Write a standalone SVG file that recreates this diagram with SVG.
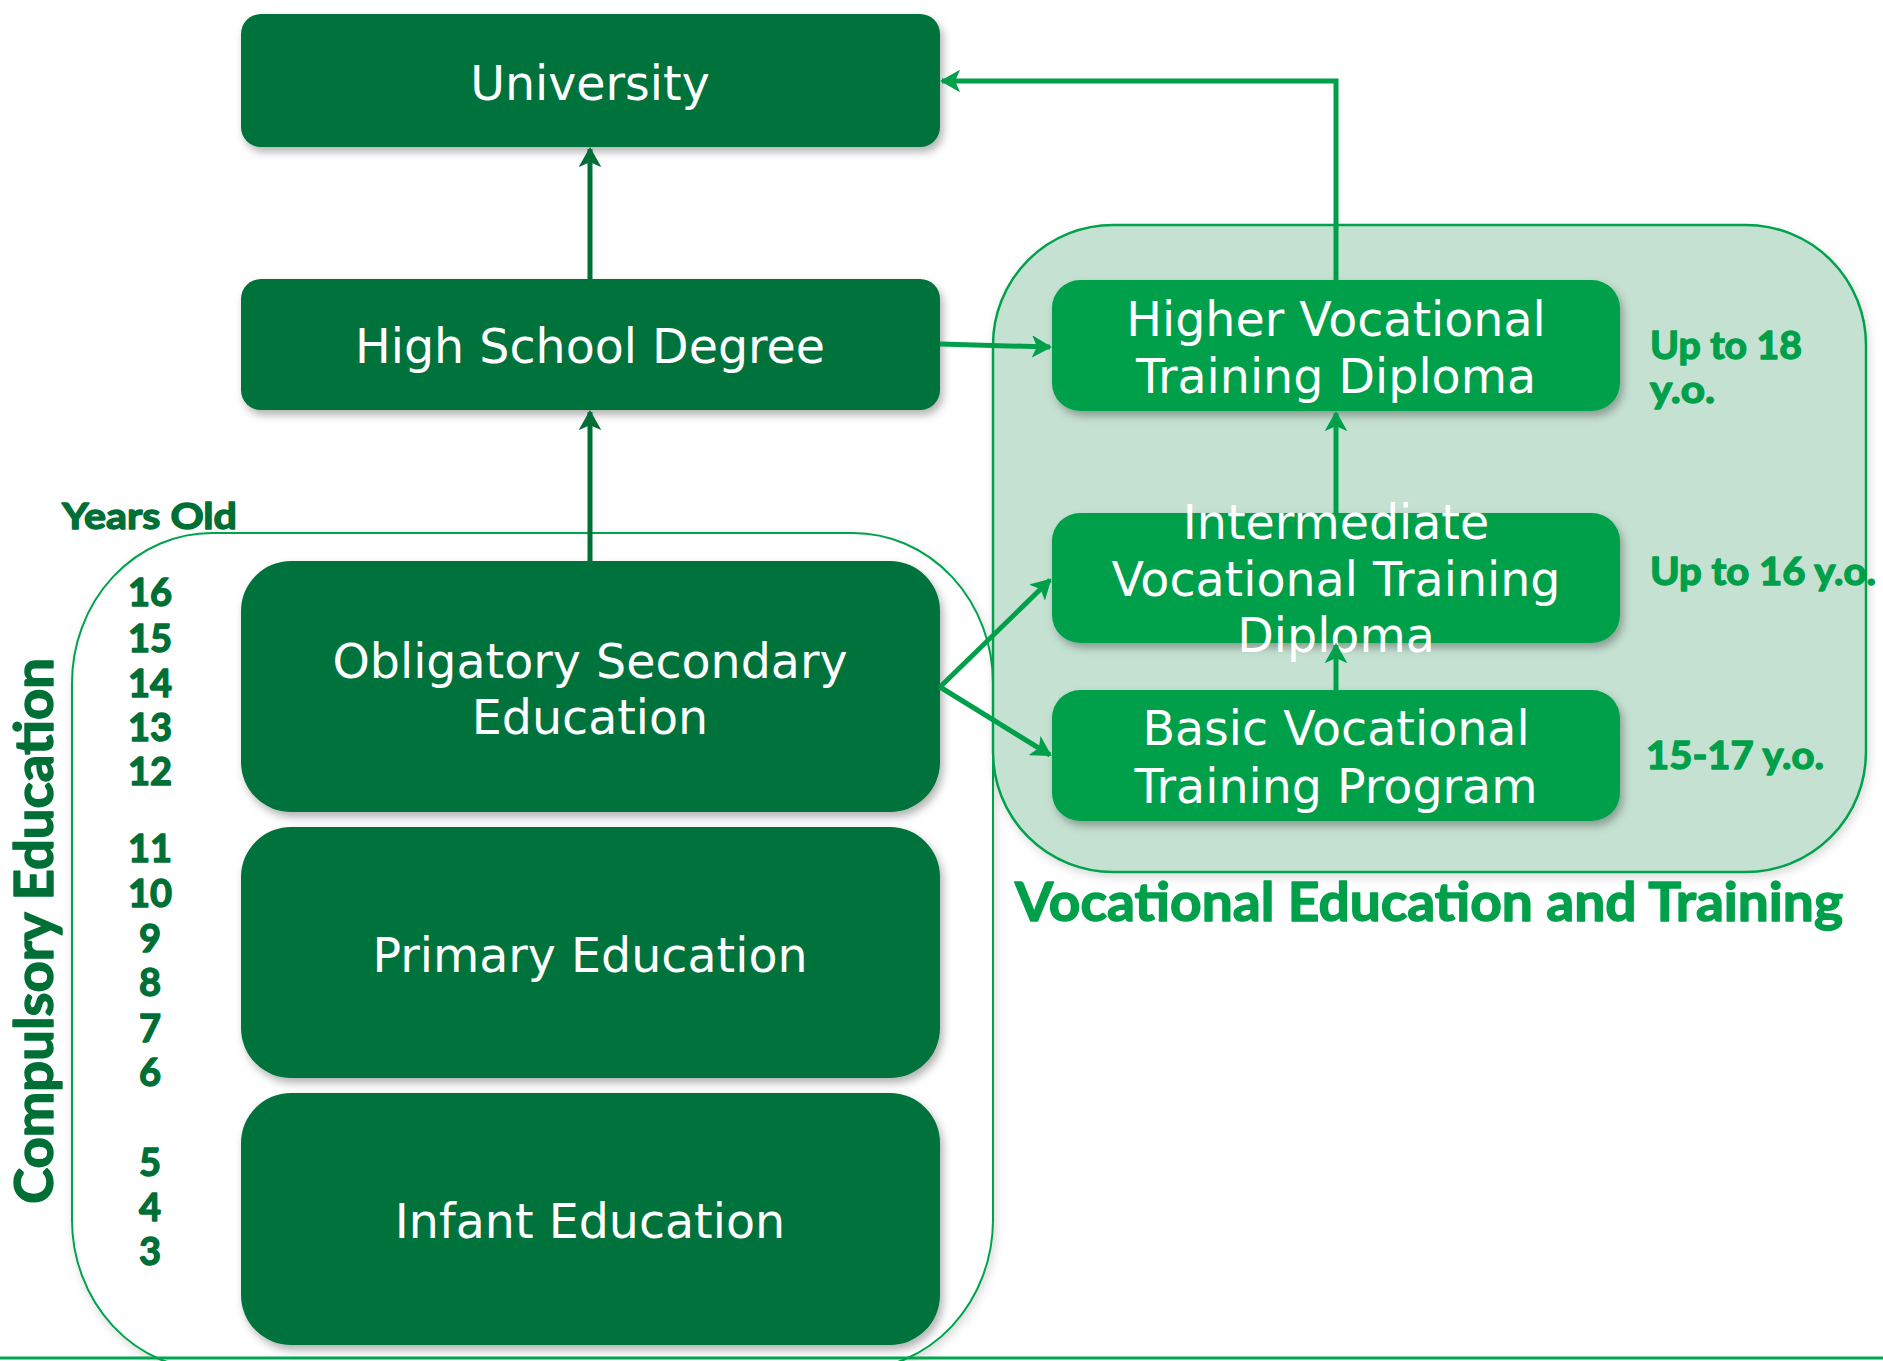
<svg xmlns="http://www.w3.org/2000/svg" width="1883" height="1361" viewBox="0 0 1883 1361">
<style>
.dk{fill:#00723a}
.br{fill:#00a04b}
.wt{fill:#ffffff;font-family:"DejaVu Sans",sans-serif;font-size:47.5px;text-anchor:middle}
.gl{font-family:Lato,"Open Sans",sans-serif;font-weight:bold;stroke-width:1.4px;stroke-linejoin:round}
.gd{fill:#006f36;stroke:#006f36}
.gb{fill:#00a04b;stroke:#00a04b}
.age{font-size:38px;text-anchor:middle}
.rlab{font-size:38px}
.cdk{fill:none;stroke:#006f36;stroke-width:5}
.cbr{fill:none;stroke:#00a04b;stroke-width:5}
</style>
<defs>
<filter id="sh" x="-10%" y="-10%" width="120%" height="130%">
<feDropShadow dx="3" dy="5" stdDeviation="4" flood-color="#000" flood-opacity="0.3"/>
</filter>
<filter id="sh2" x="-10%" y="-10%" width="120%" height="130%">
<feDropShadow dx="2" dy="4" stdDeviation="5" flood-color="#000" flood-opacity="0.15"/>
</filter>
<marker id="ad" markerUnits="userSpaceOnUse" markerWidth="22" markerHeight="22" viewBox="-18 -11 22 22" refX="0" refY="0" orient="auto">
<path d="M0,0 L-16,-9 L-12,0 L-16,9 Z" fill="#006f36" stroke="#006f36" stroke-width="2" stroke-linejoin="miter"/>
</marker>
<marker id="ab" markerUnits="userSpaceOnUse" markerWidth="22" markerHeight="22" viewBox="-18 -11 22 22" refX="0" refY="0" orient="auto">
<path d="M0,0 L-16,-9 L-12,0 L-16,9 Z" fill="#00a04b" stroke="#00a04b" stroke-width="2" stroke-linejoin="miter"/>
</marker>
</defs>
<rect width="1883" height="1361" fill="#ffffff"/>

<g id="compulsory-container">
<rect x="72" y="533" width="921" height="837" rx="140" ry="150" fill="#ffffff" stroke="#00a24c" stroke-width="2" filter="url(#sh2)"/>
</g>
<g id="vocational-container">
<rect x="993" y="225" width="873" height="647" rx="120" ry="120" fill="#c5e1d2" stroke="#00a24c" stroke-width="2.5" filter="url(#sh2)"/>
</g>
<line x1="0" y1="1358" x2="1883" y2="1358" stroke="#00a651" stroke-width="3"/>

<g id="university">
<rect class="dk" x="241" y="14" width="699" height="133" rx="20" filter="url(#sh)"/>
<text class="wt" x="590" y="100">University</text>
</g>
<g id="high-school">
<rect class="dk" x="241" y="279" width="699" height="131" rx="20" filter="url(#sh)"/>
<text class="wt" x="590" y="363">High School Degree</text>
</g>
<g id="secondary">
<rect class="dk" x="241" y="561" width="699" height="251" rx="50" filter="url(#sh)"/>
<text class="wt" x="590" y="678">Obligatory Secondary</text>
<text class="wt" x="590" y="734">Education</text>
</g>
<g id="primary">
<rect class="dk" x="241" y="827" width="699" height="251" rx="50" filter="url(#sh)"/>
<text class="wt" x="590" y="972">Primary Education</text>
</g>
<g id="infant">
<rect class="dk" x="241" y="1093" width="699" height="252" rx="50" filter="url(#sh)"/>
<text class="wt" x="590" y="1238">Infant Education</text>
</g>
<g id="higher-vocational">
<rect class="br" x="1052" y="280" width="568" height="131" rx="28" filter="url(#sh)"/>
<text class="wt" x="1336" y="336">Higher Vocational</text>
<text class="wt" x="1336" y="393">Training Diploma</text>
</g>
<g id="intermediate-vocational">
<rect class="br" x="1052" y="513" width="568" height="130" rx="28" filter="url(#sh)"/>
<text class="wt" x="1336" y="539">Intermediate</text>
<text class="wt" x="1336" y="596">Vocational Training</text>
<text class="wt" x="1336" y="652">Diploma</text>
</g>
<g id="basic-vocational">
<rect class="br" x="1052" y="690" width="568" height="131" rx="28" filter="url(#sh)"/>
<text class="wt" x="1336" y="745">Basic Vocational</text>
<text class="wt" x="1336" y="803">Training Program</text>
</g>

<g id="connectors">
<line class="cdk" x1="590" y1="279" x2="590" y2="149" marker-end="url(#ad)"/>
<line class="cdk" x1="590" y1="561" x2="590" y2="412" marker-end="url(#ad)"/>
<polyline class="cbr" points="1336,280 1336,81 942,81" marker-end="url(#ab)"/>
<line class="cbr" x1="940" y1="344" x2="1050" y2="347" marker-end="url(#ab)"/>
<line class="cbr" x1="940" y1="687" x2="1050" y2="580" marker-end="url(#ab)"/>
<line class="cbr" x1="940" y1="687" x2="1050" y2="755" marker-end="url(#ab)"/>
<line class="cbr" x1="1336" y1="690" x2="1336" y2="645" marker-end="url(#ab)"/>
<line class="cbr" x1="1336" y1="513" x2="1336" y2="413" marker-end="url(#ab)"/>
</g>

<g id="labels" class="gl">
<text class="gd" x="62" y="529" font-size="37" textLength="175" lengthAdjust="spacingAndGlyphs">Years Old</text>
<text class="gd" transform="translate(53,931) rotate(-90)" font-size="53" text-anchor="middle" textLength="546" lengthAdjust="spacingAndGlyphs">Compulsory Education</text>
<text class="gd age" x="150" y="606">16</text>
<text class="gd age" x="150" y="652">15</text>
<text class="gd age" x="150" y="697">14</text>
<text class="gd age" x="150" y="741">13</text>
<text class="gd age" x="150" y="785">12</text>
<text class="gd age" x="150" y="862">11</text>
<text class="gd age" x="150" y="907">10</text>
<text class="gd age" x="150" y="952">9</text>
<text class="gd age" x="150" y="996">8</text>
<text class="gd age" x="150" y="1042">7</text>
<text class="gd age" x="150" y="1086">6</text>
<text class="gd age" x="150" y="1176">5</text>
<text class="gd age" x="150" y="1221">4</text>
<text class="gd age" x="150" y="1265">3</text>
<text class="gb rlab" x="1650" y="359" textLength="152" lengthAdjust="spacingAndGlyphs">Up to 18</text>
<text class="gb rlab" x="1650" y="403" textLength="65" lengthAdjust="spacingAndGlyphs">y.o.</text>
<text class="gb rlab" x="1650" y="585" textLength="226" lengthAdjust="spacingAndGlyphs">Up to 16 y.o.</text>
<text class="gb rlab" x="1646" y="769" textLength="178" lengthAdjust="spacingAndGlyphs">15-17 y.o.</text>
<text class="gb" x="1015" y="921" font-size="53" textLength="828" lengthAdjust="spacingAndGlyphs">Vocational Education and Training</text>
</g>
</svg>
